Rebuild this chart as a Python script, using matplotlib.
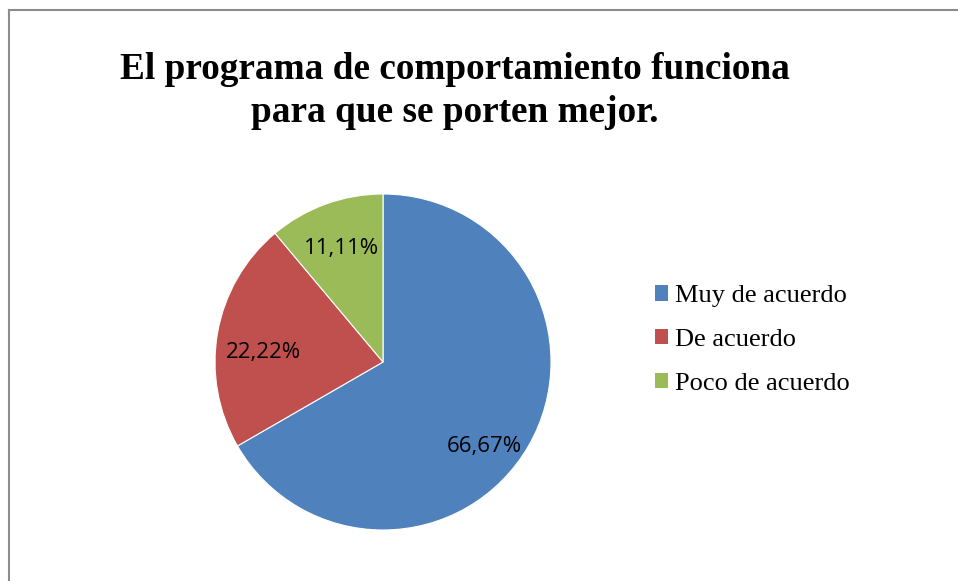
import matplotlib
matplotlib.use("Agg")
import matplotlib.pyplot as plt
from matplotlib.lines import Line2D

title = "El programa de comportamiento funciona\npara que se porten mejor."
categories = ["Muy de acuerdo", "De acuerdo", "Poco de acuerdo"]
values = [66.67, 22.22, 11.11]
colors = ["#4F81BD", "#C0504D", "#9BBB59"]
# label nudges (fraction of radius) to mimic best-fit placement
label_dx = [-0.02, 0.0, 0.0]
label_dy = [-0.14, -0.07, 0.0]

W, H = 958, 581
fig = plt.figure(figsize=(W / 100, H / 100), dpi=100)
fig.patch.set_facecolor("white")

# frame lines (top and left)
fig.add_artist(Line2D([8.5 / W, 1], [1 - 9.5 / H, 1 - 9.5 / H], color="#8c8c8c", lw=1.5))
fig.add_artist(Line2D([8.5 / W, 8.5 / W], [0, 1 - 9.5 / H], color="#8c8c8c", lw=1.5))

cx, cy, r = 383, 362, 168
ax = fig.add_axes([(cx - r) / W, 1 - (cy + r) / H, 2 * r / W, 2 * r / H])
wedges, texts, autotexts = ax.pie(
    values, colors=colors, startangle=90, counterclock=False,
    autopct=lambda p: f"{p:.2f}%".replace(".", ","), pctdistance=0.72,
    wedgeprops=dict(linewidth=0.8, edgecolor="white"),
    textprops=dict(fontsize=16, family="Open Sans", color="black"))
for t, dx, dy in zip(autotexts, label_dx, label_dy):
    x, y = t.get_position()
    t.set_position((x + dx, y + dy))
ax.set_aspect("equal")
ax.set_xlim(-1, 1)
ax.set_ylim(-1, 1)

fig.text(455 / W, 1 - 91 / H, title, ha="center", va="center",
         family="Liberation Serif", fontweight="bold", fontsize=26.8, linespacing=1.28)

leg = fig.legend(wedges, categories, loc="center left",
                 bbox_to_anchor=(631 / W, 1 - 340 / H), frameon=False,
                 prop=dict(family="Liberation Serif", size=19),
                 handlelength=0.5, handleheight=0.5, handletextpad=0.25,
                 labelspacing=0.82)
for h in leg.legend_handles:
    h.set_edgecolor("none")

fig.savefig("out.png", dpi=100)
